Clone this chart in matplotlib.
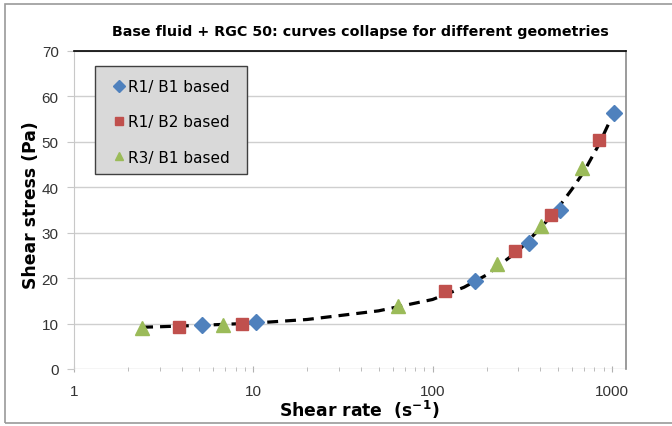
import matplotlib
matplotlib.use('Agg')
import matplotlib.pyplot as plt
from matplotlib.patches import Rectangle
from matplotlib.ticker import LogLocator, NullFormatter, FixedLocator

# R1/ B1 based (diamonds)
rate_r1b1 = [5.19, 10.3, 172, 345, 513, 1031]
stress_r1b1 = [9.7, 10.3, 19.3, 27.7, 35.1, 56.3]
# R1/ B2 based (squares)
rate_r1b2 = [3.85, 8.6, 118, 288, 457, 851]
stress_r1b2 = [9.3, 9.8, 17.2, 25.9, 33.9, 50.4]
# R3/ B1 based (triangles)
rate_r3b1 = [2.4, 6.8, 64, 228, 401, 684]
stress_r3b1 = [9.1, 9.7, 13.8, 23.1, 31.4, 44.2]
# dashed master curve
curve_rate = [2.4, 3, 5, 10, 20, 50, 100, 150, 200, 300, 400, 500, 600, 700, 850, 1000]
curve_stress = [9.2, 9.3, 9.6, 10.1, 10.9, 12.8, 15.3, 18.0, 20.7, 26.0, 31.0, 35.4, 39.6, 43.5, 49.5, 55.5]

plt.rcParams['font.family'] = ['DejaVu Sans']

fig = plt.figure(figsize=(6.72, 4.27), dpi=100)
W, H = 672, 427
ax = fig.add_axes([74 / W, 1 - 370 / H, 552 / W, 318 / H])

# outer frame
fig.patches.append(Rectangle((5 / W, 3 / H), 1.0, 1 - 8 / H, transform=fig.transFigure,
                             fill=False, edgecolor='#9a9a9a', linewidth=1.2))

ax.plot(curve_rate, curve_stress, color='black', linestyle=(0, (3.4, 2.2)), linewidth=2.3, zorder=2)
ax.plot(rate_r1b1, stress_r1b1, 'D', color='#4F81BD', markersize=8.5, linestyle='none',
        label='R1/ B1 based', zorder=3)
ax.plot(rate_r1b2, stress_r1b2, 's', color='#C0504D', markersize=9, linestyle='none',
        label='R1/ B2 based', zorder=3)
ax.plot(rate_r3b1, stress_r3b1, '^', color='#9BBB59', markersize=10, linestyle='none',
        label='R3/ B1 based', zorder=3)

ax.set_xscale('log')
ax.set_xlim(1, 1200)
ax.set_ylim(0, 70)
ax.xaxis.set_major_locator(FixedLocator([1, 10, 100, 1000]))
ax.xaxis.set_minor_locator(LogLocator(base=10, subs=range(2, 10)))
ax.xaxis.set_minor_formatter(NullFormatter())
ax.set_xticklabels(['1', '10', '100', '1000'])
ax.set_yticks(range(0, 71, 10))
for lab in ax.get_xticklabels() + ax.get_yticklabels():
    lab.set_family('Liberation Sans')

ax.grid(axis='y', color='#cfcfcf', linewidth=1.0)
ax.set_axisbelow(True)
ax.spines['bottom'].set_visible(False)
ax.spines['top'].set_color('black')
ax.spines['top'].set_linewidth(1.2)
ax.spines['left'].set_color('#c8c8c8')
ax.spines['right'].set_color('#8a8a8a')
ax.spines['right'].set_linewidth(1.2)

ax.tick_params(axis='y', colors='#c8c8c8', labelcolor='#333333', labelsize=11, length=5,
               direction='out', pad=6)
ax.tick_params(axis='x', which='major', colors='#b0b0b0', labelcolor='#333333', labelsize=11,
               length=5, direction='inout', pad=8)
ax.tick_params(axis='x', which='minor', colors='#b0b0b0', length=3, direction='inout')

fig.text(360 / W, 1 - 32 / H, 'Base fluid + RGC 50: curves collapse for different geometries',
         ha='center', va='center', fontsize=10.3, fontweight='bold')
fig.text(359 / W, 1 - 410 / H, 'Shear rate  (s$^{\\mathbf{-1}}$)', ha='center', va='center',
         fontsize=12.4, fontweight='bold')
fig.text(31 / W, 1 - 205 / H, 'Shear stress (Pa)', ha='center', va='center', rotation=90,
         fontsize=12.4, fontweight='bold')

# legend box
ax.add_patch(Rectangle((95 / W, 1 - 175 / H), 152 / W, 108 / H, transform=fig.transFigure,
                       facecolor='#d9d9d9', edgecolor='#404040', linewidth=1.0, zorder=4,
                       clip_on=False))
leg = ax.legend(loc='upper left', bbox_to_anchor=(114.4 / W, 1 - 80 / H),
                bbox_transform=fig.transFigure, borderaxespad=0, borderpad=0,
                fontsize=11, frameon=False, labelspacing=1.33,
                handletextpad=0.29, handlelength=0.6, numpoints=1)
leg.set_zorder(5)
for h in leg.legend_handles:
    h.set_markersize(6)

fig.savefig('out.png', dpi=100)
